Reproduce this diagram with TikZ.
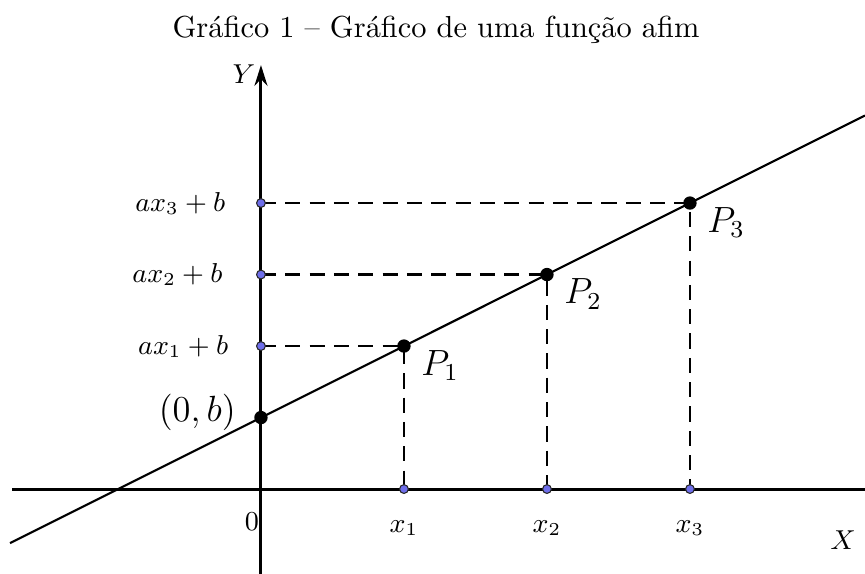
\documentclass[tikz,border=0pt]{standalone}
\usepackage{amsmath}
\usepackage{xcolor}
\usepackage{tikz}
\usetikzlibrary{arrows.meta,positioning}
\definecolor{pointblue}{HTML}{6E6EEA}

\begin{document}
\begin{tikzpicture}[
  x=1.653cm, y=1.653cm,
  axis/.style={line width=1pt},
  graph/.style={line width=0.7pt},
  guide/.style={line width=0.7pt, dash pattern=on 5pt off 3pt},
  dot/.style={circle, fill=black, inner sep=0pt, minimum size=4.4pt},
  bluedot/.style={circle, draw=black!85, fill=pointblue, line width=0.35pt, inner sep=0pt, minimum size=2.9pt},
  tick/.style={font=\small, inner sep=1pt},
  plabel/.style={font=\large, inner sep=1pt}
]
\useasboundingbox (-1.825,-0.594) rectangle (4.224,3.420);

\coordinate (xl) at (-1.741,0);
\coordinate (xr) at (4.224,0);
\coordinate (yb) at (0,-0.594);
\coordinate (yt) at (0,2.965);
\coordinate (le) at (-1.755,-0.378);
\coordinate (re) at (4.224,2.612);

\coordinate (b) at (0,0.5);
\coordinate (p1) at (1,1);
\coordinate (p2) at (2,1.5);
\coordinate (p3) at (3,2);
\coordinate (x1) at (1,0);
\coordinate (x2) at (2,0);
\coordinate (x3) at (3,0);
\coordinate (y1) at (0,1);
\coordinate (y2) at (0,1.5);
\coordinate (y3) at (0,2);

% guides
\draw[guide] (y1) -- (p1) -- (x1);
\draw[guide] (y2) -- (p2) -- (x2);
\draw[guide] (y3) -- (p3) -- (x3);

% axes and graph
\draw[axis] (xl) -- (xr);
\draw[axis, -{Stealth[length=2.4mm, width=1.5mm]}] (yb) -- (yt);
\draw[graph] (le) -- (re);

\node[bluedot] (dx1) at (x1) {};
\node[bluedot] (dx2) at (x2) {};
\node[bluedot] (dx3) at (x3) {};
\node[bluedot] (dy1) at (y1) {};
\node[bluedot] (dy2) at (y2) {};
\node[bluedot] (dy3) at (y3) {};
\node[dot] (db) at (b) {};
\node[dot] (dp1) at (p1) {};
\node[dot] (dp2) at (p2) {};
\node[dot] (dp3) at (p3) {};

\node (title) at (1.224,3.21) {Gráfico 1 – Gráfico de uma função afim};
\node[tick] (ylab) at (-0.12,2.9) {$Y$};
\node[tick] (xlab) at (4.07,-0.357) {$X$};
\node[tick] (zero) at (-0.063,-0.23) {$0$};
\node[tick, below=0.16 of dx1] (lx1) {$x_1$};
\node[tick, below=0.16 of dx2] (lx2) {$x_2$};
\node[tick, below=0.16 of dx3] (lx3) {$x_3$};
\node[tick, left=0.17 of dy1] (ly1) {$ax_1+b$};
\node[tick, left=0.21 of dy2] (ly2) {$ax_2+b$};
\node[tick, left=0.19 of dy3] (ly3) {$ax_3+b$};
\node[plabel, left=0.1 of db, yshift=1.7pt] (lb) {$(0,b)$};
\node[plabel, below right=-0.03 and 0.06 of dp1] (lp1) {$P_1$};
\node[plabel, below right=-0.03 and 0.06 of dp2] (lp2) {$P_2$};
\node[plabel, below right=-0.03 and 0.06 of dp3] (lp3) {$P_3$};
\end{tikzpicture}
\end{document}
